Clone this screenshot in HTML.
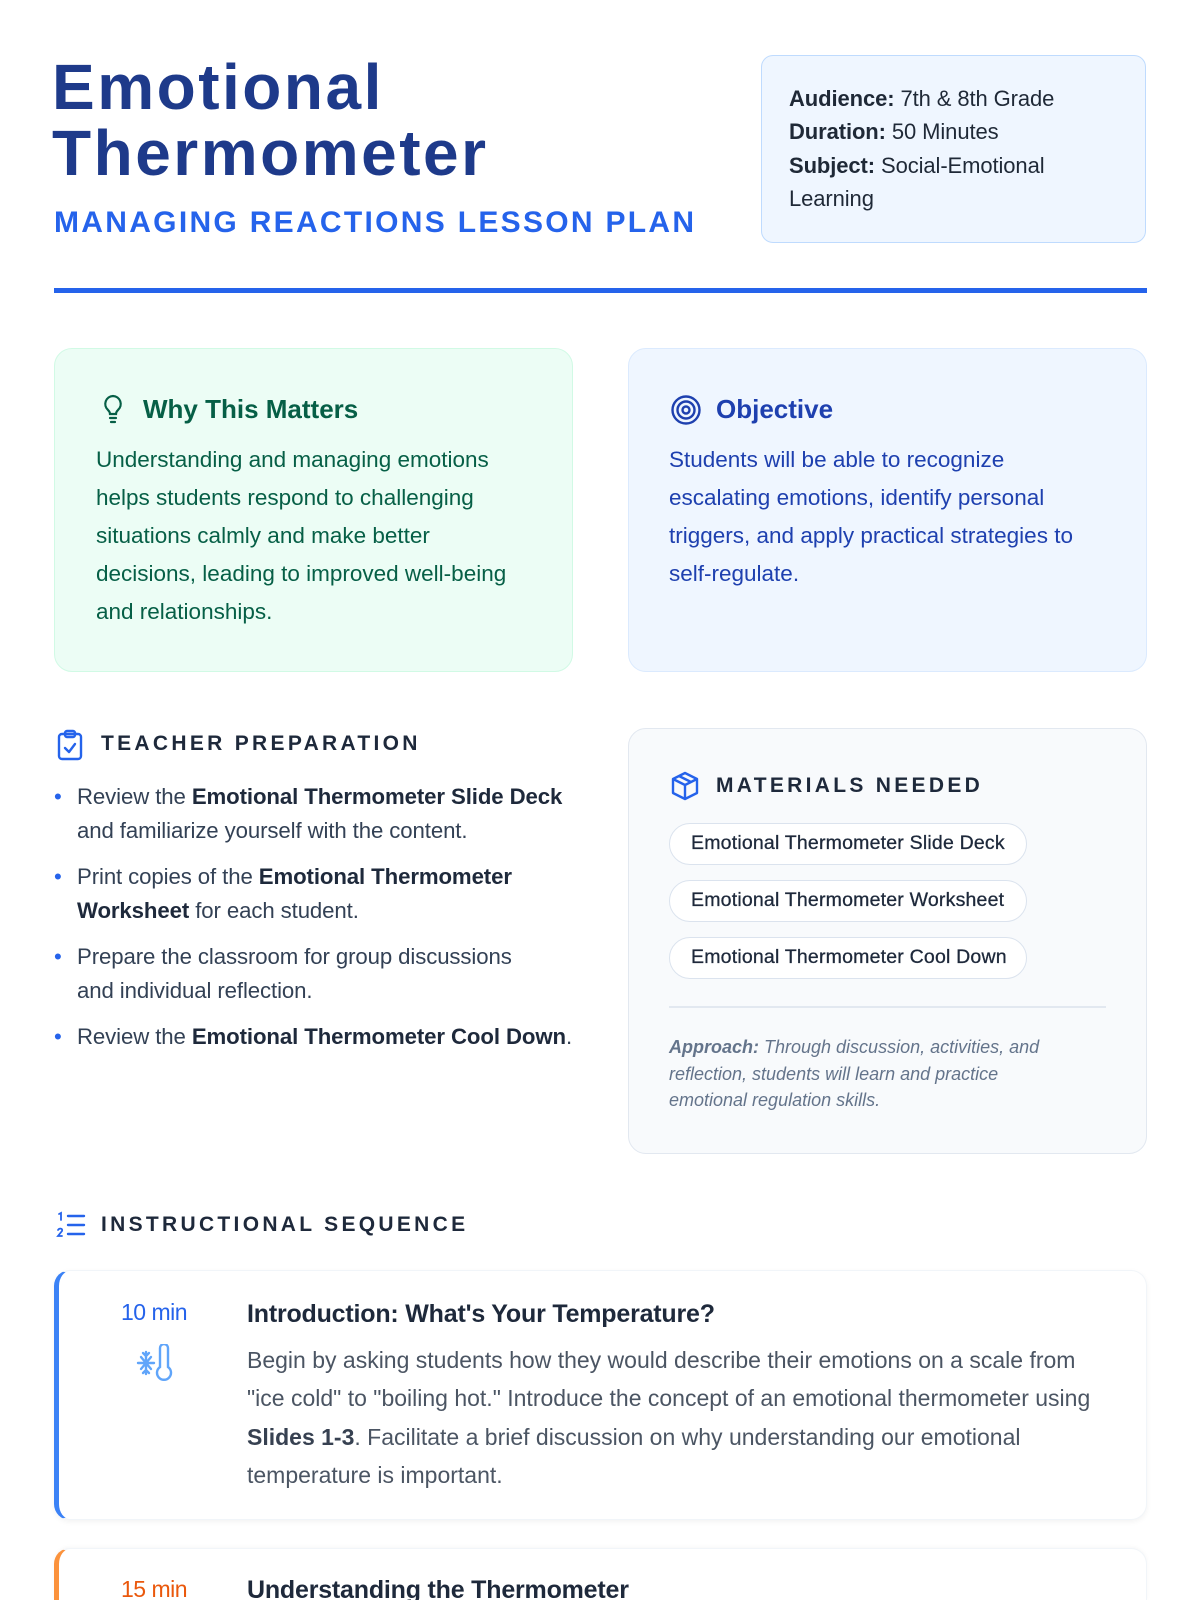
<!DOCTYPE html>
<html style="overflow:hidden;height:1600px"><head><meta charset="utf-8"><style>
*{margin:0;padding:0;box-sizing:border-box}
html,body{width:1200px;height:1600px;overflow:hidden}
body{background:#fff;font-family:"Liberation Sans",sans-serif}
#w{position:relative;width:1200px;height:1600px;overflow:hidden}
.a{position:absolute;white-space:nowrap}
b{font-weight:bold}
.pill{position:absolute;left:669px;width:358px;height:42px;border:1.5px solid #dbe3ee;border-radius:21px;background:#fff;font-size:19.5px;color:#1e293b;line-height:39px;padding-left:21px;letter-spacing:0.2px;-webkit-text-stroke:0.3px #1e293b}
</style></head><body><div id="w">
<div class="a" style="left:52px;top:54px;font-size:64px;line-height:66px;font-weight:bold;color:#1e3a8a;letter-spacing:2.5px">Emotional<br>Thermometer</div>
<div class="a" style="left:54px;top:205px;font-size:30px;line-height:36px;font-weight:bold;color:#2563eb;letter-spacing:2.3px">MANAGING REACTIONS LESSON PLAN</div>
<div class="a" style="left:761px;top:55px;width:385px;height:188px;background:#eff6ff;border:1.5px solid #bfdbfe;border-radius:12px"></div>
<div class="a" style="left:789px;top:82px;font-size:22px;line-height:33.3px;color:#1f2937;letter-spacing:-0.1px"><b>Audience:</b> 7th &amp; 8th Grade<br><b>Duration:</b> 50 Minutes<br><b>Subject:</b> Social-Emotional<br>Learning</div>
<div class="a" style="left:54px;top:288px;width:1093px;height:5px;background:#2563eb"></div>

<div class="a" style="left:54px;top:348px;width:519px;height:324px;background:#ecfdf5;border:1.5px solid #d1fae5;border-radius:18px"></div>
<svg class="a" style="left:100px;top:394px" width="26" height="30" viewBox="0 0 26 30" fill="none" stroke="#065f46" stroke-width="2.2" stroke-linecap="round"><path d="M13 2a8 8 0 0 0-5 14c1 1 2 2 2 4h6c0-2 1-3 2-4A8 8 0 0 0 13 2z"/><path d="M10 24h6M11 28h4"/></svg>
<div class="a" style="left:143px;top:394px;font-size:26px;line-height:30px;font-weight:bold;color:#065f46">Why This Matters</div>
<div class="a" style="left:96px;top:441px;font-size:22.5px;line-height:38px;color:#065f46;letter-spacing:0">Understanding and managing emotions<br>helps students respond to challenging<br>situations calmly and make better<br>decisions, leading to improved well-being<br>and relationships.</div>

<div class="a" style="left:628px;top:348px;width:519px;height:324px;background:#eff6ff;border:1.5px solid #dbeafe;border-radius:18px"></div>
<svg class="a" style="left:670px;top:394px" width="32" height="32" viewBox="0 0 32 32" fill="none" stroke="#1e40af" stroke-width="2.4"><circle cx="16" cy="16" r="13.5"/><circle cx="16" cy="16" r="8.5"/><circle cx="16" cy="16" r="3.5"/></svg>
<div class="a" style="left:716px;top:394px;font-size:26px;line-height:30px;font-weight:bold;color:#1e40af">Objective</div>
<div class="a" style="left:669px;top:441px;font-size:22.5px;line-height:38px;color:#1e40af;letter-spacing:0">Students will be able to recognize<br>escalating emotions, identify personal<br>triggers, and apply practical strategies to<br>self-regulate.</div>

<svg class="a" style="left:56px;top:729px" width="28" height="32" viewBox="0 0 28 32" fill="none" stroke="#2563eb" stroke-width="2.4" stroke-linejoin="round" stroke-linecap="round"><rect x="3" y="5" width="22" height="25" rx="3"/><rect x="9" y="2" width="10" height="6" rx="2"/><path d="M9 19l4 4 6-8"/></svg>
<div class="a" style="left:101px;top:732px;font-size:21px;line-height:24px;font-weight:bold;color:#1e293b;letter-spacing:3.3px">TEACHER PREPARATION</div>
<div class="a" style="left:54px;top:780px;font-size:22.2px;line-height:34px;color:#334155;letter-spacing:-0.1px">
<div style="position:absolute;left:0;top:0"><span style="color:#2563eb;position:absolute;left:0">•</span><div style="margin-left:23px">Review the <b style="color:#1e293b">Emotional Thermometer Slide Deck</b><br>and familiarize yourself with the content.</div></div>
<div style="position:absolute;left:0;top:80px"><span style="color:#2563eb;position:absolute;left:0">•</span><div style="margin-left:23px">Print copies of the <b style="color:#1e293b">Emotional Thermometer</b><br><b style="color:#1e293b">Worksheet</b> for each student.</div></div>
<div style="position:absolute;left:0;top:160px"><span style="color:#2563eb;position:absolute;left:0">•</span><div style="margin-left:23px">Prepare the classroom for group discussions<br>and individual reflection.</div></div>
<div style="position:absolute;left:0;top:240px"><span style="color:#2563eb;position:absolute;left:0">•</span><div style="margin-left:23px">Review the <b style="color:#1e293b">Emotional Thermometer Cool Down</b>.</div></div>
</div>

<div class="a" style="left:628px;top:728px;width:519px;height:426px;background:#f8fafc;border:1.5px solid #e2e8f0;border-radius:18px"></div>
<svg class="a" style="left:670px;top:771px" width="30" height="30" viewBox="0 0 30 30" fill="none" stroke="#2563eb" stroke-width="2.4" stroke-linejoin="round"><path d="M15 2l12 6v14l-12 6-12-6V8z"/><path d="M3 8l12 6 12-6M15 14v14M9 5l12 6"/></svg>
<div class="a" style="left:716px;top:774px;font-size:21px;line-height:24px;font-weight:bold;color:#1e293b;letter-spacing:3.3px">MATERIALS NEEDED</div>
<div class="pill" style="top:823px">Emotional Thermometer Slide Deck</div>
<div class="pill" style="top:880px">Emotional Thermometer Worksheet</div>
<div class="pill" style="top:937px">Emotional Thermometer Cool Down</div>
<div class="a" style="left:669px;top:1006px;width:437px;height:1.5px;background:#e2e8f0"></div>
<div class="a" style="left:669px;top:1034px;font-size:18px;line-height:26.5px;color:#64748b;font-style:italic;letter-spacing:0"><b>Approach:</b> Through discussion, activities, and<br>reflection, students will learn and practice<br>emotional regulation skills.</div>

<svg class="a" style="left:56px;top:1211px" width="30" height="28" viewBox="0 0 30 28" fill="none" stroke="#2563eb" stroke-width="2.4" stroke-linecap="round"><path d="M12 5h16M12 14h16M12 23h16"/><path d="M3 3l2-1v7" stroke-width="1.8"/><path d="M2 19c1-2 5-2 4 1l-4 5h4" stroke-width="1.8"/></svg>
<div class="a" style="left:101px;top:1213px;font-size:21px;line-height:24px;font-weight:bold;color:#1e293b;letter-spacing:3.3px">INSTRUCTIONAL SEQUENCE</div>

<div class="a" style="left:54px;top:1270px;width:1093px;height:250px;background:#fff;border:1px solid #f1f5f9;border-left:5px solid #3b82f6;border-radius:16px;box-shadow:0 2px 6px rgba(0,0,0,0.05)"></div>
<div class="a" style="left:118px;top:1298px;width:72px;text-align:center;font-size:23px;line-height:28px;color:#2563eb;letter-spacing:-0.5px">10 min</div>
<svg class="a" style="left:136px;top:1344px" width="38" height="38" viewBox="0 0 38 38" fill="none" stroke="#60a5fa" stroke-width="2.4" stroke-linecap="round"><path d="M24 4a4 4 0 0 1 8 0v19a7 7 0 1 1-8 0z"/><path d="M10 8v22M2 19h16M5 13l10 12M15 13L5 25M7 9l3 3 3-3M7 29l3-3 3 3"/></svg>
<div class="a" style="left:247px;top:1299px;font-size:25px;line-height:30px;font-weight:bold;color:#1e293b;letter-spacing:-0.2px">Introduction: What's Your Temperature?</div>
<div class="a" style="left:247px;top:1341px;font-size:23px;line-height:38.3px;color:#4b5563;letter-spacing:0">Begin by asking students how they would describe their emotions on a scale from<br>"ice cold" to "boiling hot." Introduce the concept of an emotional thermometer using<br><b style="color:#374151">Slides 1-3</b>. Facilitate a brief discussion on why understanding our emotional<br>temperature is important.</div>

<div class="a" style="left:54px;top:1548px;width:1093px;height:52px;background:#fff;border-top:1px solid #f1f5f9;border-right:1px solid #f1f5f9;border-left:5px solid #fb923c;border-radius:16px 16px 0 0;box-shadow:0 -1px 4px rgba(0,0,0,0.04)"></div>
<div class="a" style="left:118px;top:1575px;width:72px;text-align:center;font-size:23px;line-height:28px;color:#ea580c;letter-spacing:-0.5px">15 min</div>
<div class="a" style="left:247px;top:1575px;font-size:25px;line-height:30px;font-weight:bold;color:#1e293b;letter-spacing:-0.2px">Understanding the Thermometer</div>
</div></body></html>
